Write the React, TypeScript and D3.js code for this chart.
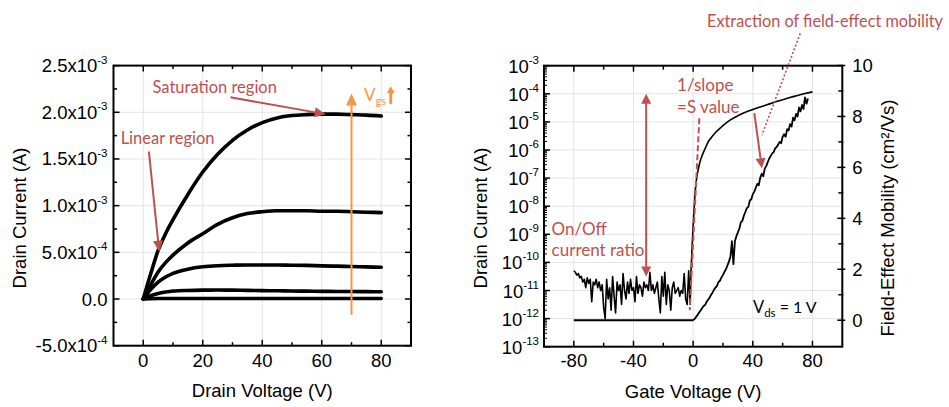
import React from 'react';
import * as d3 from 'd3';

// ---------------- Data: output characteristics (left) ----------------
const drainVoltage = [0, 2.5, 5, 7.5, 10, 15, 20, 25, 30, 35, 40, 45, 50, 55, 60, 65, 70, 75, 80];
// drain current in mA
const outputCurve1 = [0, 0.27, 0.52, 0.70, 0.85, 1.12, 1.36, 1.55, 1.70, 1.81, 1.89, 1.94, 1.965, 1.975, 1.98, 1.98, 1.975, 1.97, 1.96];
const outputCurve2 = [0, 0.15, 0.29, 0.39, 0.47, 0.60, 0.70, 0.80, 0.87, 0.915, 0.935, 0.945, 0.945, 0.945, 0.94, 0.94, 0.935, 0.93, 0.925];
const outputCurve3 = [0, 0.10, 0.18, 0.235, 0.275, 0.32, 0.345, 0.357, 0.362, 0.365, 0.365, 0.364, 0.362, 0.36, 0.355, 0.352, 0.348, 0.344, 0.34];
const outputCurve4 = [0, 0.035, 0.06, 0.075, 0.085, 0.092, 0.095, 0.096, 0.095, 0.093, 0.09, 0.088, 0.086, 0.084, 0.082, 0.081, 0.08, 0.079, 0.078];
const outputCurve5 = [0, 0.003, 0.005, 0.006, 0.006, 0.006, 0.006, 0.006, 0.006, 0.006, 0.006, 0.006, 0.006, 0.006, 0.006, 0.006, 0.006, 0.006, 0.006];
const outputCurves = [outputCurve1, outputCurve2, outputCurve3, outputCurve4, outputCurve5];

const leftXTicks = [0, 20, 40, 60, 80];
const leftXMinor = [10, 30, 50, 70];
const leftYTicks = [-5e-4, 0, 5e-4, 1e-3, 1.5e-3, 2e-3, 2.5e-3];
const leftYMinor = [-2.5e-4, 2.5e-4, 7.5e-4, 1.25e-3, 1.75e-3, 2.25e-3];
const leftYTickMantissa = ['-5.0x10', '0.0', '5.0x10', '1.0x10', '1.5x10', '2.0x10', '2.5x10'];
const leftYTickExponent = ['-4', '', '-4', '-3', '-3', '-3', '-3'];

// ---------------- Data: transfer characteristics (right) ----------------
// off-state drain current, log10(A), for Vg = -80 ... -2 V (1 V step)
const offCurrentLog = [
  -10.3, -10.35, -10.45, -10.4, -10.55, -10.5, -10.7, -10.6, -10.9, -10.55,
  -10.75, -10.6, -11.4, -10.7, -10.8, -10.6, -10.9, -10.7, -11.0, -10.8,
  -11.6, -12.0, -10.6, -11.3, -10.9, -11.7, -10.5, -11.2, -11.8, -10.7,
  -11.0, -10.8, -11.5, -10.4, -11.0, -11.3, -10.7, -11.1, -10.6, -11.0,
  -10.9, -11.4, -10.5, -11.1, -10.8, -10.9, -11.2, -10.7, -10.9, -10.8,
  -11.0, -10.35, -11.0, -10.8, -11.1, -10.9, -10.7, -11.3, -11.8, -10.5,
  -11.2, -10.35, -11.5, -10.8, -11.0, -11.7, -10.9, -10.7, -11.1, -11.0,
  -10.9, -11.2, -11.0, -11.1, -10.4, -11.3, -11.5, -10.3, -11.5,
];
const gateOff = d3.range(-80, -1, 1);
const gateOn = [-1.5, -1, -0.5, 0, 0.5, 1, 1.5, 2, 2.5, 3, 4, 5, 6, 8, 10, 12, 15, 20, 25, 30, 35, 40, 45, 50, 55, 60, 65, 70, 75, 80];
const onCurrentLog = [-10.4, -9.8, -9.2, -8.7, -8.2, -7.75, -7.4, -7.15, -6.95, -6.8, -6.55, -6.35, -6.2, -5.95, -5.72, -5.57, -5.38, -5.13, -4.93, -4.78, -4.66, -4.56, -4.47, -4.38, -4.29, -4.21, -4.13, -4.06, -3.99, -3.93];

// field-effect mobility (cm2/Vs)
const mobilityFlatGate = [-80, 0];
const mobilityFlat = [0, 0];
const mobilityGate = d3.range(0, 78, 1);
const mobility = [
  0, 0.05, 0.13, 0.21, 0.3, 0.38, 0.47, 0.56, 0.6, 0.72,
  0.8, 0.88, 1.0, 1.08, 1.2, 1.28, 1.35, 1.5, 1.55, 1.68,
  1.78, 1.9, 2.0, 2.15, 2.3, 2.5, 3.1, 2.2, 3.1, 3.3,
  3.45, 3.6, 3.85, 3.9, 4.1, 4.25, 4.4, 4.45, 4.7, 4.75,
  4.95, 5.05, 5.2, 5.35, 5.3, 5.6, 5.75, 5.65, 5.95, 6.05,
  6.2, 6.35, 6.45, 6.55, 6.6, 6.75, 6.8, 6.9, 7.0, 6.95,
  7.2, 7.3, 7.2, 7.5, 7.45, 7.7, 7.6, 7.95, 7.85, 8.1,
  8.0, 8.35, 8.2, 8.45, 8.3, 8.75, 8.5, 8.7,
];

const rightXTicks = [-80, -40, 0, 40, 80];
const rightXMinor = [-60, -20, 20, 60];
const rightYExponents = [-13, -12, -11, -10, -9, -8, -7, -6, -5, -4, -3];
const rightY2Ticks = [0, 2, 4, 6, 8, 10];
const rightY2Minor = [1, 3, 5, 7, 9];

const RED = '#C0504D';
const ORANGE = '#F79646';
const GRID = '#e3e3e3';
const AXIS_FONT = '"Liberation Sans", Arial, sans-serif';
const NOTE_FONT = 'Lato, "Open Sans", sans-serif';

function arrowHead(x1: number, y1: number, x2: number, y2: number, len: number, half: number) {
  const dx = x2 - x1, dy = y2 - y1;
  const L = Math.hypot(dx, dy) || 1;
  const ux = dx / L, uy = dy / L;
  const bx = x2 - ux * len, by = y2 - uy * len;
  const px = -uy * half, py = ux * half;
  return `${x2},${y2} ${bx + px},${by + py} ${bx - px},${by - py}`;
}
function shorten(x1: number, y1: number, x2: number, y2: number, d: number) {
  const L = Math.hypot(x2 - x1, y2 - y1) || 1;
  return [x2 - (x2 - x1) / L * d, y2 - (y2 - y1) / L * d];
}

function Arrow({ x1, y1, x2, y2, color, width, len, half, dbl }: any) {
  const [ex, ey] = shorten(x1, y1, x2, y2, len * 0.8);
  const [sx, sy] = dbl ? shorten(x2, y2, x1, y1, len * 0.8) : [x1, y1];
  return (
    <g>
      <line x1={sx} y1={sy} x2={ex} y2={ey} stroke={color} strokeWidth={width} />
      <polygon points={arrowHead(x1, y1, x2, y2, len, half)} fill={color} />
      {dbl && <polygon points={arrowHead(x2, y2, x1, y1, len, half)} fill={color} />}
    </g>
  );
}

function LeftPanel() {
  const x = d3.scaleLinear().domain([-10, 90]).range([113.5, 411]);
  const y = d3.scaleLinear().domain([-5e-4, 2.5e-3]).range([345.7, 65.6]);
  const [x0, x1] = x.range();
  const [y0, y1] = y.range();
  const line = d3.line<number>()
    .x((_, i) => x(drainVoltage[i]))
    .y((d) => y(d * 1e-3))
    .curve(d3.curveMonotoneX);
  return (
    <g>
      {leftXTicks.map((t) => <line key={'gx' + t} x1={x(t)} x2={x(t)} y1={y0} y2={y1} stroke={GRID} strokeWidth={1} />)}
      {leftYTicks.slice(1, -1).map((t) => <line key={'gy' + t} x1={x0} x2={x1} y1={y(t)} y2={y(t)} stroke={GRID} strokeWidth={1} />)}
      {outputCurves.map((c, i) => (
        <path key={'c' + i} d={line(c) || ''} fill="none" stroke="#000" strokeWidth={3.6} strokeLinecap="round" strokeLinejoin="round" />
      ))}
      {/* ticks */}
      {leftXTicks.map((t) => (
        <g key={'tx' + t}>
          <line x1={x(t)} x2={x(t)} y1={y0} y2={y0 - 6} stroke="#000" strokeWidth={1.5} />
          <line x1={x(t)} x2={x(t)} y1={y1} y2={y1 + 6} stroke="#000" strokeWidth={1.5} />
          <text x={x(t)} y={y0 + 21} textAnchor="middle" fontSize={18.5} fontFamily={AXIS_FONT}>{t}</text>
        </g>
      ))}
      {leftXMinor.map((t) => (
        <g key={'mx' + t}>
          <line x1={x(t)} x2={x(t)} y1={y0} y2={y0 - 3.5} stroke="#000" strokeWidth={1.5} />
          <line x1={x(t)} x2={x(t)} y1={y1} y2={y1 + 3.5} stroke="#000" strokeWidth={1.5} />
        </g>
      ))}
      {leftYTicks.map((t, i) => (
        <g key={'ty' + t}>
          <line x1={x0} x2={x0 + 6} y1={y(t)} y2={y(t)} stroke="#000" strokeWidth={1.5} />
          <line x1={x1} x2={x1 - 6} y1={y(t)} y2={y(t)} stroke="#000" strokeWidth={1.5} />
          <text x={x0 - 6} y={y(t) + 6.5} textAnchor="end" fontSize={18.5} fontFamily={AXIS_FONT}>
            {leftYTickMantissa[i]}
            {leftYTickExponent[i] && <tspan fontSize={11.5} dy={-8.5}>{leftYTickExponent[i]}</tspan>}
          </text>
        </g>
      ))}
      {leftYMinor.map((t) => (
        <g key={'my' + t}>
          <line x1={x0} x2={x0 + 3.5} y1={y(t)} y2={y(t)} stroke="#000" strokeWidth={1.5} />
          <line x1={x1} x2={x1 - 3.5} y1={y(t)} y2={y(t)} stroke="#000" strokeWidth={1.5} />
        </g>
      ))}
      <rect x={x0} y={y1} width={x1 - x0} height={y0 - y1} fill="none" stroke="#000" strokeWidth={2} />
      {/* axis titles */}
      <text x={(x0 + x1) / 2} y={396.5} textAnchor="middle" fontSize={18.5} fontFamily={AXIS_FONT}>Drain Voltage (V)</text>
      <text transform={`translate(26,218) rotate(-90)`} textAnchor="middle" fontSize={18.5} fontFamily={AXIS_FONT}>Drain Current (A)</text>
      {/* annotations */}
      <text x={x(3.1)} y={y(2.27e-3) + 5.5} fontSize={16.5} fill={RED} fontFamily={NOTE_FONT}>Saturation region</text>
      <Arrow x1={x(29.3)} y1={y(2.16e-3)} x2={x(61.3)} y2={y(1.98e-3)} color={RED} width={2} len={11} half={5} />
      <text x={x(-7.6)} y={y(1.72e-3) + 5.5} fontSize={16.5} fill={RED} fontFamily={NOTE_FONT}>Linear region</text>
      <Arrow x1={x(1.9)} y1={y(1.58e-3)} x2={x(5.35)} y2={y(0.507e-3)} color={RED} width={2} len={11} half={5} />
      <Arrow x1={x(70)} y1={y(-0.17e-3)} x2={x(70)} y2={y(2.2e-3)} color={ORANGE} width={2} len={12} half={5.5} />
      <text x={x(74.2)} y={y(2.185e-3) + 6} fontSize={17} fill={ORANGE} fontFamily={NOTE_FONT}>
        V<tspan fontSize={11} dy={4}>gs</tspan>
      </text>
      <Arrow x1={x(83.2)} y1={y(2.09e-3)} x2={x(83.2)} y2={y(2.28e-3)} color={ORANGE} width={3} len={7} half={4} />
    </g>
  );
}

function RightPanel() {
  const x = d3.scaleLinear().domain([-100, 100]).range([544, 842.3]);
  const y = d3.scaleLog().domain([1e-13, 1e-3]).range([346.7, 65.7]);
  const y2 = d3.scaleLinear().domain([-1.04, 10]).range([346.7, 65.5]);
  const [x0, x1] = x.range();
  const [y0, y1] = y.range();
  const pow = (e: number) => Math.pow(10, e);

  const offLine = d3.line<number>().x((_, i) => x(gateOff[i])).y((d) => y(pow(d)));
  const onLine = d3.line<number>().x((_, i) => x(gateOn[i])).y((d) => y(pow(d))).curve(d3.curveMonotoneX);
  const joinLine = d3.line<number>().x((d) => x(d)).y((_, i) => y(pow([offCurrentLog[offCurrentLog.length - 1], onCurrentLog[0]][i])));
  const flatLine = d3.line<number>().x((_, i) => x(mobilityFlatGate[i])).y((d) => y2(d));
  const muLine = d3.line<number>().x((_, i) => x(mobilityGate[i])).y((d) => y2(d));

  const minorLog: number[] = [];
  rightYExponents.slice(0, -1).forEach((e) => {
    for (let k = 2; k <= 9; k++) minorLog.push(k * pow(e));
  });

  return (
    <g>
      {rightXTicks.map((t) => <line key={'gx' + t} x1={x(t)} x2={x(t)} y1={y0} y2={y1} stroke={GRID} strokeWidth={1} />)}
      {rightYExponents.slice(1, -1).map((e) => <line key={'gy' + e} x1={x0} x2={x1} y1={y(pow(e))} y2={y(pow(e))} stroke={GRID} strokeWidth={1} />)}

      {/* data */}
      <path d={flatLine(mobilityFlat) || ''} fill="none" stroke="#000" strokeWidth={2} />
      <path d={muLine(mobility) || ''} fill="none" stroke="#000" strokeWidth={1.8} strokeLinejoin="round" />
      <path d={offLine(offCurrentLog) || ''} fill="none" stroke="#000" strokeWidth={1.6} strokeLinejoin="round" />
      <path d={joinLine([gateOff[gateOff.length - 1], gateOn[0]]) || ''} fill="none" stroke="#000" strokeWidth={1.6} />
      <path d={onLine(onCurrentLog) || ''} fill="none" stroke="#000" strokeWidth={1.6} />

      {/* ticks */}
      {rightXTicks.map((t) => (
        <g key={'tx' + t}>
          <line x1={x(t)} x2={x(t)} y1={y0} y2={y0 - 6} stroke="#000" strokeWidth={1.5} />
          <line x1={x(t)} x2={x(t)} y1={y1} y2={y1 + 6} stroke="#000" strokeWidth={1.5} />
          <text x={x(t)} y={y0 + 20} textAnchor="middle" fontSize={18.5} fontFamily={AXIS_FONT}>{t}</text>
        </g>
      ))}
      {rightXMinor.map((t) => (
        <g key={'mx' + t}>
          <line x1={x(t)} x2={x(t)} y1={y0} y2={y0 - 4} stroke="#000" strokeWidth={1.5} />
          <line x1={x(t)} x2={x(t)} y1={y1} y2={y1 + 4} stroke="#000" strokeWidth={1.5} />
        </g>
      ))}
      {rightYExponents.map((e) => (
        <g key={'ty' + e}>
          <line x1={x0} x2={x0 + 6} y1={y(pow(e))} y2={y(pow(e))} stroke="#000" strokeWidth={1.5} />
          <text x={x0 - 5} y={y(pow(e)) + 7} textAnchor="end" fontSize={18.5} fontFamily={AXIS_FONT}>
            10<tspan fontSize={11.5} dy={-9}>{e}</tspan>
          </text>
        </g>
      ))}
      {minorLog.map((v, i) => (
        <line key={'ml' + i} x1={x0} x2={x0 + 3} y1={y(v)} y2={y(v)} stroke="#000" strokeWidth={1} />
      ))}
      {rightY2Ticks.map((t) => (
        <g key={'t2' + t}>
          <line x1={x1 - 5} x2={x1 + 3} y1={y2(t)} y2={y2(t)} stroke="#000" strokeWidth={1.5} />
          <text x={x1 + 10} y={y2(t) + 6.5} fontSize={18.5} fontFamily={AXIS_FONT}>{t}</text>
        </g>
      ))}
      {rightY2Minor.map((t) => (
        <line key={'m2' + t} x1={x1 - 4} x2={x1 + 1} y1={y2(t)} y2={y2(t)} stroke="#000" strokeWidth={1.5} />
      ))}
      <rect x={x0} y={y1} width={x1 - x0} height={y0 - y1} fill="none" stroke="#000" strokeWidth={2} />

      {/* titles */}
      <text x={(x0 + x1) / 2} y={398} textAnchor="middle" fontSize={18.5} fontFamily={AXIS_FONT}>Gate Voltage (V)</text>
      <text transform={`translate(487,218) rotate(-90)`} textAnchor="middle" fontSize={18.5} fontFamily={AXIS_FONT}>Drain Current (A)</text>
      <text transform={`translate(894,218) rotate(-90)`} textAnchor="middle" fontSize={18.5} fontFamily={AXIS_FONT}
        textLength={237} lengthAdjust="spacingAndGlyphs">Field-Effect Mobility (cm²/Vs)</text>

      {/* annotations */}
      <Arrow x1={x(-31.5)} y1={y(pow(-10.5))} x2={x(-31.5)} y2={y(pow(-4.0))} color={RED} width={2} len={10} half={5} dbl />
      <text x={x(-94.9)} y={y(pow(-8.82)) + 6} fontSize={17} fill={RED} fontFamily={NOTE_FONT}>On/Off</text>
      <text x={x(-94.9)} y={y(pow(-9.56)) + 6} fontSize={17} fill={RED} fontFamily={NOTE_FONT}>current ratio</text>
      <text x={x(-10.8)} y={y(pow(-3.69)) + 6} fontSize={17} fill={RED} fontFamily={NOTE_FONT}>1/slope</text>
      <text x={x(-10.8)} y={y(pow(-4.46)) + 6} fontSize={17} fill={RED} fontFamily={NOTE_FONT}>=S value</text>
      <line x1={x(4.15)} y1={y(pow(-4.87))} x2={x(-2.3)} y2={y(pow(-11.7))} stroke={RED} strokeWidth={2} strokeDasharray="6,3" />
      <line x1={x(71.8)} y1={y(pow(-1.85))} x2={x(46.1)} y2={y(pow(-5.47))} stroke={RED} strokeWidth={1.6} strokeDasharray="2,2" />
      <Arrow x1={x(41)} y1={y(pow(-4.69))} x2={x(46.1)} y2={y(pow(-6.65))} color={RED} width={2} len={10} half={5} />
      <text x={x(9.3)} y={y(pow(-1.4)) + 6} fontSize={16.5} fill={RED} fontFamily={NOTE_FONT}
        textLength={236} lengthAdjust="spacingAndGlyphs">Extraction of field-effect mobility</text>
      <text x={x(40.1)} y={y2(0.52) + 6} fontSize={16.5} fill="#000" fontFamily={NOTE_FONT}>
        V<tspan fontSize={11.5} dy={4}>ds</tspan><tspan dy={-4} fontSize={16}> = 1 V</tspan>
      </text>
    </g>
  );
}

export default function App() {
  return (
    <svg width={949} height={407} viewBox="0 0 949 407"
      style={{ position: 'absolute', left: 0, top: 0, background: '#fff' }}>
      <rect x={0} y={0} width={949} height={407} fill="#fff" />
      <LeftPanel />
      <RightPanel />
    </svg>
  );
}
